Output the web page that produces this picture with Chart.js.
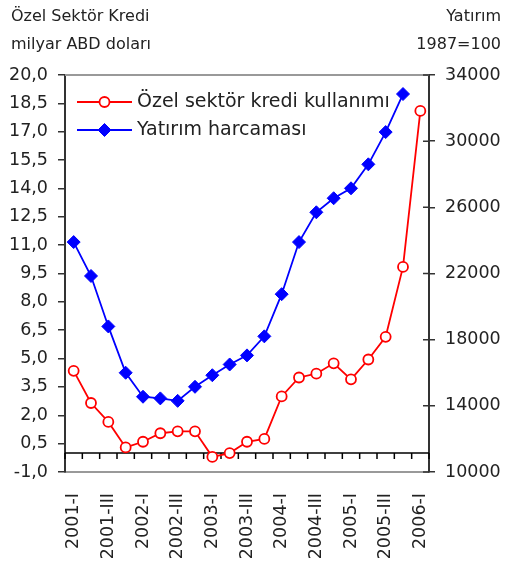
<!DOCTYPE html>
<html>
<head>
<meta charset="utf-8">
<script src="https://cdn.jsdelivr.net/npm/chart.js@4"></script>
<style>
  html, body { margin: 0; padding: 0; background: #fff; }
  #wrap { width: 507px; height: 565px; }
</style>
</head>
<body>
<div id="wrap"><canvas id="c" width="507" height="565"></canvas></div>
<script>
// Quarters 2001-I .. 2006-I
const categories = [
  '2001-I','2001-II','2001-III','2001-IV',
  '2002-I','2002-II','2002-III','2002-IV',
  '2003-I','2003-II','2003-III','2003-IV',
  '2004-I','2004-II','2004-III','2004-IV',
  '2005-I','2005-II','2005-III','2005-IV',
  '2006-I'
];
// Private sector credit use, billion USD (left axis)
const krediValues = [4.35, 2.65, 1.65, 0.3, 0.6, 1.05, 1.15, 1.15, -0.2, 0.0, 0.6, 0.75,
                     3.0, 4.0, 4.2, 4.75, 3.9, 4.95, 6.15, 9.85, 18.1];
// Investment expenditure, 1987=100 (right axis)
const yatirimValues = [23900, 21850, 18800, 16000, 14550, 14450, 14300, 15150, 15850, 16500, 17050,
                       18200, 20750, 23900, 25700, 26550, 27150, 28600, 30550, 32850, null];
const seriesNames = ['Özel sektör kredi kullanımı', 'Yatırım harcaması'];
const leftTitle = ['Özel Sektör Kredi', 'milyar ABD doları'];
const rightTitle = ['Yatırım', '1987=100'];

const FONT = 'DejaVu Sans';

const decor = {
  id: 'decor',
  beforeDatasetsDraw(chart) {
    const { ctx, chartArea: a, scales } = chart;
    ctx.save();
    // top frame line
    ctx.strokeStyle = '#999';
    ctx.lineWidth = 2;
    ctx.beginPath();
    ctx.moveTo(a.left, a.top);
    ctx.lineTo(a.right, a.top);
    ctx.stroke();
    // zero line with category boundary ticks
    const y0 = scales.y.getPixelForValue(0);
    ctx.strokeStyle = '#000';
    ctx.lineWidth = 1.5;
    ctx.beginPath();
    ctx.moveTo(a.left, y0);
    ctx.lineTo(a.right, y0);
    const x = scales.x;
    const step = x.getPixelForValue(1) - x.getPixelForValue(0);
    for (let i = 0; i <= categories.length; i++) {
      const px = x.getPixelForValue(i) - step / 2;
      ctx.moveTo(px, y0);
      ctx.lineTo(px, y0 + 6);
    }
    ctx.stroke();
    // inner half of right axis ticks
    const r = scales.y1;
    ctx.strokeStyle = '#333';
    ctx.lineWidth = 1.5;
    ctx.beginPath();
    r.ticks.forEach(t => {
      const py = r.getPixelForValue(t.value);
      ctx.moveTo(a.right - 6, py);
      ctx.lineTo(a.right, py);
    });
    ctx.stroke();
    ctx.restore();
  },
  afterDraw(chart) {
    const { ctx } = chart;
    ctx.save();
    ctx.fillStyle = '#222';
    ctx.font = '16px ' + FONT;
    ctx.textBaseline = 'middle';
    ctx.textAlign = 'left';
    ctx.fillText(leftTitle[0], 11, 17);
    ctx.fillText(leftTitle[1], 11, 45);
    ctx.textAlign = 'right';
    ctx.fillText(rightTitle[0], 501, 17);
    ctx.fillText(rightTitle[1], 501, 45);

    // legend
    const rows = [102, 130];
    chart.data.datasets.forEach((ds, i) => {
      const y = rows[i];
      const x1 = 77, x2 = 132, xm = (x1 + x2) / 2;
      ctx.strokeStyle = ds.borderColor;
      ctx.lineWidth = ds.borderWidth;
      ctx.beginPath();
      ctx.moveTo(x1, y);
      ctx.lineTo(x2, y);
      ctx.stroke();
      ctx.fillStyle = ds.pointBackgroundColor;
      ctx.strokeStyle = ds.pointBorderColor;
      ctx.lineWidth = ds.pointBorderWidth;
      ctx.beginPath();
      const rr = ds.pointRadius;
      if (ds.pointStyle === 'rectRot') {
        ctx.moveTo(xm, y - rr); ctx.lineTo(xm + rr, y); ctx.lineTo(xm, y + rr); ctx.lineTo(xm - rr, y);
        ctx.closePath();
      } else {
        ctx.arc(xm, y, rr, 0, Math.PI * 2);
      }
      ctx.fill();
      ctx.stroke();
      ctx.fillStyle = '#222';
      ctx.font = '19px ' + FONT;
      ctx.textAlign = 'left';
      ctx.fillText(ds.label, 137, y);
    });
    ctx.restore();
  }
};

new Chart(document.getElementById('c'), {
  type: 'line',
  data: {
    labels: categories,
    datasets: [
      {
        label: seriesNames[0],
        data: krediValues,
        yAxisID: 'y',
        borderColor: '#ff0000',
        borderWidth: 1.8,
        pointStyle: 'circle',
        pointRadius: 5,
        pointBorderWidth: 1.8,
        pointBackgroundColor: '#ffffff',
        pointBorderColor: '#ff0000',
        tension: 0
      },
      {
        label: seriesNames[1],
        data: yatirimValues,
        yAxisID: 'y1',
        borderColor: '#0000ff',
        borderWidth: 1.8,
        pointStyle: 'rectRot',
        pointRadius: 6.5,
        pointBorderWidth: 1,
        pointBackgroundColor: '#0000ff',
        pointBorderColor: '#0000ff',
        tension: 0
      }
    ]
  },
  options: {
    responsive: false,
    animation: false,
    devicePixelRatio: 1,
    layout: { padding: { top: 75, left: 0, right: 0, bottom: 0 } },
    plugins: { legend: { display: false }, tooltip: { enabled: false } },
    scales: {
      x: {
        offset: true,
        grid: { display: false, drawTicks: false },
        border: { display: true, color: '#999', width: 2 },
        ticks: {
          autoSkip: false,
          maxRotation: 90,
          minRotation: 90,
          padding: 21,
          color: '#222',
          font: { family: FONT, size: 17.5 },
          callback: (v, i) => (i % 2 === 0 ? categories[i] : '')
        },
        afterFit: s => { s.height = 93; }
      },
      y: {
        position: 'left',
        min: -1,
        max: 20,
        grid: { drawOnChartArea: false, drawTicks: true, tickLength: 7, color: '#333', lineWidth: 1.5 },
        border: { display: true, color: '#333', width: 2 },
        ticks: {
          stepSize: 1.5,
          padding: 10,
          color: '#222',
          font: { family: FONT, size: 17.5 },
          callback: v => Number(v).toFixed(1).replace('.', ',')
        },
        afterFit: s => { s.width = 65; }
      },
      y1: {
        position: 'right',
        min: 10000,
        max: 34000,
        grid: { drawOnChartArea: false, drawTicks: true, tickLength: 6, color: '#333', lineWidth: 1.5 },
        border: { display: true, color: '#333', width: 2 },
        ticks: {
          stepSize: 4000,
          padding: 10,
          color: '#222',
          font: { family: FONT, size: 17.5 },
          callback: v => String(v)
        },
        afterFit: s => { s.width = 78; }
      }
    }
  },
  plugins: [decor]
});
</script>
</body>
</html>
